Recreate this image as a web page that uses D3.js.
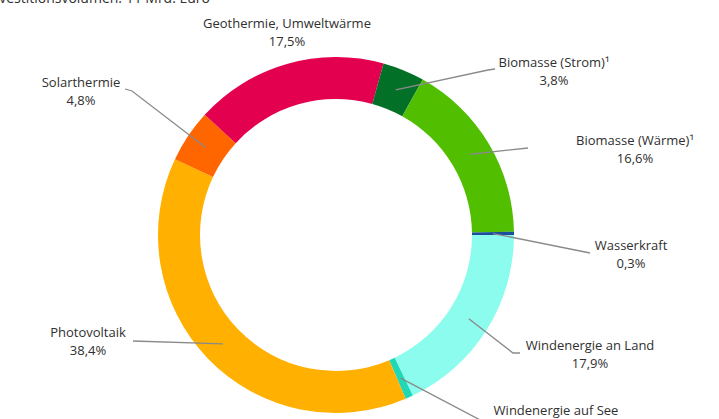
<!DOCTYPE html>
<html>
<head>
<meta charset="utf-8">
<script src="https://cdn.jsdelivr.net/npm/d3@7"></script>
<style>
  html, body { margin: 0; padding: 0; background: #fff; }
  svg { display: block; }
  text { font-family: "Open Sans", sans-serif; fill: #303030; }
</style>
</head>
<body>
<div class="chart"></div>
<script>
// Anteile am Investitionsvolumen (in %), im Uhrzeigersinn ab 3 Uhr
const categories = ['Windenergie an Land', 'Windenergie auf See', 'Photovoltaik', 'Solarthermie',
                    'Geothermie, Umweltwärme', 'Biomasse (Strom)¹', 'Biomasse (Wärme)¹', 'Wasserkraft'];
const shares     = [17.9, 0.7, 38.4, 4.8, 17.5, 3.8, 16.6, 0.3];
const shareText  = ['17,9%', '0,7%', '38,4%', '4,8%', '17,5%', '3,8%', '16,6%', '0,3%'];
const colors     = ['#8cfcee', '#1ed8b6', '#ffb000', '#ff6600', '#e3004f', '#037028', '#52be00', '#1b4f9b'];
const title      = 'Investitionsvolumen: 11 Mrd. Euro';

// Lage der Beschriftungen (Mitte x, Grundlinie erste Zeile) und Knickpunkte der Linien
const labelPos = [[590, 350], [556, 415], [88, 337], [81, 87], [287, 28], [554, 67], [635, 145], [631, 250]];
const leaderPts = [
  [[513, 353], [520, 353]],
  [[484, 422]],
  [[133, 341]],
  [[132, 91], [125, 89]],
  [],
  [[488, 70], [495, 69]],
  [[528, 148]],
  [[590, 253]]
];

const width = 719, height = 419;
const cx = 336, cy = 235, rOuter = 178, rInner = 136;

let svg = d3.select('.chart').append('svg').attr('width', width).attr('height', height);

svg.append('text')
    .attr('x', 210).attr('y', 3)
    .attr('text-anchor', 'end')
    .style('font-size', '14px')
    .text(title);

let pie = d3.pie().sort(null).value((d) => d)
    .startAngle(Math.PI / 2).endAngle(Math.PI / 2 + 2 * Math.PI);
let arcs = pie(shares);
let arc = d3.arc().innerRadius(rInner).outerRadius(rOuter);
let midArc = d3.arc().innerRadius(157).outerRadius(157);

let g = svg.append('g').attr('transform', 'translate(' + cx + ',' + cy + ')');
g.selectAll('path.slice')
    .data(arcs)
    .enter()
    .append('path')
    .attr('class', 'slice')
    .attr('d', arc)
    .attr('fill', (d, i) => colors[i]);

// Führungslinien
let line = d3.line();
arcs.forEach((d, i) => {
    if (!leaderPts[i].length) return;
    let c = midArc.centroid(d);
    let pts = [[c[0] + cx, c[1] + cy]].concat(leaderPts[i]);
    svg.append('path')
        .attr('d', line(pts))
        .attr('fill', 'none')
        .attr('stroke', '#8a8a8a')
        .attr('stroke-width', 1.3);
});

// Beschriftungen
let labels = svg.selectAll('g.label')
    .data(categories)
    .enter()
    .append('g')
    .attr('class', 'label')
    .attr('transform', (d, i) => 'translate(' + labelPos[i][0] + ',' + labelPos[i][1] + ')');
labels.append('text')
    .attr('text-anchor', 'middle')
    .style('font-size', '13px')
    .text((d) => d);
labels.append('text')
    .attr('text-anchor', 'middle')
    .attr('y', 17.5)
    .style('font-size', '13px')
    .text((d, i) => shareText[i]);
</script>
</body>
</html>
